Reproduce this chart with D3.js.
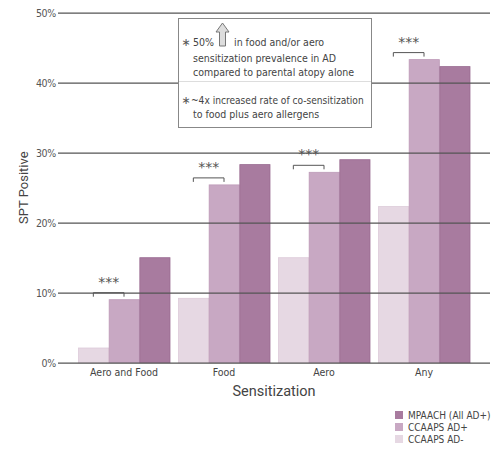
<!DOCTYPE html>
<html>
<head>
<meta charset="utf-8">
<script src="https://cdn.jsdelivr.net/npm/d3@7"></script>
<style>
body { margin: 0; background: #fff; }
text { font-family: "Liberation Sans Narrow", "DejaVu Sans Condensed", "Roboto", sans-serif; }
</style>
</head>
<body>
<div id="chart1"></div>
<script>
var categories = ["Aero and Food", "Food", "Aero", "Any"]
var seriesNames = ["CCAAPS AD-", "CCAAPS AD+", "MPAACH (All AD+)"]
var adMinus = [2.1, 9.2, 15.0, 22.3]
var adPlus = [9.0, 25.4, 27.2, 43.3]
var mpaach = [15.0, 28.3, 29.0, 42.3]
var yTicks = [0, 10, 20, 30, 40, 50]
var sigLabel = "***"
var noteLines1 = ["50%", "in food and/or aero", "sensitization prevalence in AD", "compared to parental atopy alone"]
var noteLines2 = ["~4x increased rate of co-sensitization", "to food plus aero allergens"]

var width = 500, height = 459
var colors = ["#e6d8e3", "#c8a8c3", "#a87b9f"]
var strokes = ["#ddcbd9", "#bd9ab7", "#9a6b91"]

var svg = d3.select("div#chart1").append("svg")
	.attr("width", width)
	.attr("height", height)

var x = d3.scaleBand()
	.domain(categories)
	.range([74, 474])
	.paddingInner(0.08)
	.paddingOuter(0.04)

var xs = d3.scaleBand()
	.domain(seriesNames)
	.range([0, x.bandwidth()])

var y = d3.scaleLinear()
	.domain([0, 50])
	.range([362.7, 12.7])

var allSeries = [adMinus, adPlus, mpaach]

// bars
var groups = svg.append("g").selectAll("g")
	.data(categories)
	.enter()
	.append("g")
	.attr("transform", function(d){ return "translate(" + x(d) + ",0)" })

groups.selectAll("rect")
	.data(function(d, i){ return allSeries.map(function(s, k){ return {name: seriesNames[k], k: k, v: s[i]} }) })
	.enter()
	.append("rect")
	.attr("x", function(d){ return xs(d.name) + 0.5 })
	.attr("width", xs.bandwidth() - 0.5)
	.attr("y", function(d){ return y(d.v) })
	.attr("height", function(d){ return y(0) - y(d.v) })
	.attr("fill", function(d){ return colors[d.k] })
	.attr("stroke", function(d){ return strokes[d.k] })
	.attr("stroke-width", 0.8)

// gridlines drawn over the bars
var yAxis = d3.axisLeft(y)
	.tickValues(yTicks)
	.tickFormat(function(d){ return d + "%" })
	.tickSize(-(490 - 58))
	.tickPadding(2)

var ga = svg.append("g")
	.attr("transform", "translate(58,0)")
	.call(yAxis)
ga.select(".domain").remove()
ga.selectAll(".tick line").attr("stroke", "#555").attr("stroke-width", 1.3)
ga.selectAll(".tick text").attr("fill", "#555").attr("font-size", 10.5).attr("letter-spacing", -0.3)

// category labels
var xAxis = d3.axisBottom(x).tickSize(0).tickPadding(6)
var gx = svg.append("g")
	.attr("transform", "translate(0," + y(0) + ")")
	.call(xAxis)
gx.select(".domain").remove()
gx.selectAll(".tick text").attr("fill", "#444").attr("font-size", 10.5)

// axis titles
svg.append("text")
	.attr("transform", "translate(28," + y(25) + ") rotate(-90)")
	.attr("text-anchor", "middle")
	.attr("font-size", 13)
	.attr("fill", "#444")
	.style("font-family", "Roboto, 'Noto Sans', sans-serif")
	.text("SPT Positive")

svg.append("text")
	.attr("x", x.range()[0] + (x.range()[1] - x.range()[0]) / 2)
	.attr("y", 396)
	.attr("text-anchor", "middle")
	.attr("font-size", 14.5)
	.attr("fill", "#444")
	.style("font-family", "Roboto, 'Noto Sans', sans-serif")
	.text("Sensitization")

// significance brackets between CCAAPS AD- and AD+
categories.forEach(function(c, i){
	var x1 = x(c) + xs(seriesNames[0]) + xs.bandwidth() / 2
	var x2 = x(c) + xs(seriesNames[1]) + xs.bandwidth() / 2
	var top = y(Math.max(adMinus[i], adPlus[i])) - 7
	svg.append("path")
		.attr("d", "M" + x1 + "," + (top + 4) + "V" + top + "H" + x2 + "V" + (top + 4))
		.attr("fill", "none")
		.attr("stroke", "#555")
		.attr("stroke-width", 1)
	svg.append("text")
		.attr("x", (x1 + x2) / 2)
		.attr("y", top - 6)
		.attr("text-anchor", "middle")
		.attr("font-size", 14)
		.attr("fill", "#555")
		.style("font-family", "'DejaVu Sans', sans-serif")
		.text(sigLabel)
})

// annotation box
var note = svg.append("g")
note.append("rect")
	.attr("x", 178.5).attr("y", 18.5)
	.attr("width", 193).attr("height", 109)
	.attr("fill", "#fff")
	.attr("stroke", "#888")
	.attr("stroke-width", 1)
note.append("line")
	.attr("x1", 179).attr("x2", 371)
	.attr("y1", 81.5).attr("y2", 81.5)
	.attr("stroke", "#ddd")

var fs = 10.5
note.append("text").attr("x", 181.5).attr("y", 46).attr("font-size", 11).attr("fill", "#555")
	.style("font-family", "'DejaVu Sans', sans-serif").text("\u2217")
note.append("text").attr("x", 193).attr("y", 46).attr("font-size", fs).attr("fill", "#444").text(noteLines1[0])
// up arrow
note.append("path")
	.attr("d", "M222.5,23 L229,32 L225.5,32 L225.5,46 L219.5,46 L219.5,32 L216,32 Z")
	.attr("fill", "#ddd")
	.attr("stroke", "#777")
	.attr("stroke-width", 1)
note.append("text").attr("x", 234).attr("y", 46).attr("font-size", fs).attr("fill", "#444").text(noteLines1[1])
note.append("text").attr("x", 193).attr("y", 61.5).attr("font-size", fs).attr("fill", "#444").text(noteLines1[2])
note.append("text").attr("x", 193).attr("y", 76).attr("font-size", fs).attr("fill", "#444").text(noteLines1[3])

note.append("text").attr("x", 181.5).attr("y", 104).attr("font-size", 11).attr("fill", "#555")
	.style("font-family", "'DejaVu Sans', sans-serif").text("\u2217")
note.append("text").attr("x", 191).attr("y", 104).attr("font-size", 10.1).attr("fill", "#444").text(noteLines2[0])
note.append("text").attr("x", 193).attr("y", 118).attr("font-size", fs).attr("fill", "#444").text(noteLines2[1])

// legend, darkest first
var legendOrder = [2, 1, 0]
var legend = svg.append("g").selectAll("g")
	.data(legendOrder)
	.enter()
	.append("g")
	.attr("transform", function(d, i){ return "translate(395," + (411 + i * 12) + ")" })
legend.append("rect")
	.attr("width", 8).attr("height", 8)
	.attr("fill", function(d){ return colors[d] })
legend.append("text")
	.attr("x", 13).attr("y", 8)
	.attr("font-size", 10)
	.attr("fill", "#444")
	.text(function(d){ return seriesNames[d] })
</script>
</body>
</html>
